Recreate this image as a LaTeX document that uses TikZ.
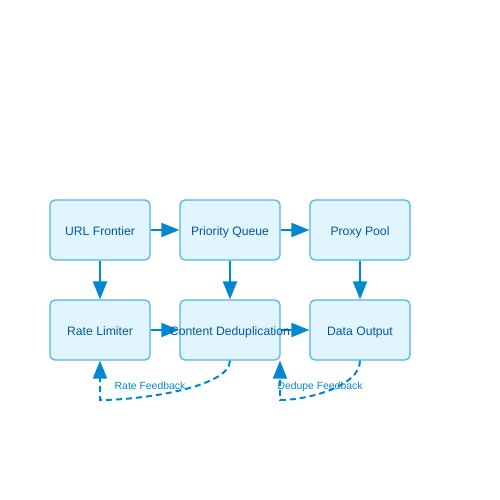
\documentclass[tikz,border=0pt]{standalone}
\usepackage{fontspec}
\setmainfont{Liberation Sans}
\usetikzlibrary{arrows.meta,calc}
\definecolor{boxfill}{HTML}{E1F5FE}
\definecolor{boxline}{HTML}{4FB3E8}
\definecolor{boxtext}{HTML}{01579B}
\definecolor{arrowc}{HTML}{0288D1}
\tikzset{
  stage/.style={draw=boxline, fill=boxfill, line width=1.2pt, rounded corners=5pt,
    minimum width=100pt, minimum height=60pt, inner sep=0pt, text=boxtext,
    font=\fontsize{12.2pt}{14pt}\selectfont},
  stagetext/.style={text=boxtext, font=\fontsize{12.2pt}{14pt}\selectfont, inner sep=0pt,
    text height=8.8pt, text depth=0pt},
  flow/.style={draw=arrowc, line width=2pt, -{Triangle[length=18pt,width=14pt]}},
  feedback/.style={flow, dash pattern=on 6pt off 4pt},
  fblabel/.style={text=arrowc, font=\fontsize{10.4pt}{12pt}\selectfont, inner sep=0pt,
    text height=7.5pt, text depth=0pt}
}
\begin{document}
\begin{tikzpicture}[x=1pt,y=-1pt]
\useasboundingbox (0,0) rectangle (500,500);
\node[stage] (url) at (100,230) {};
\node[stage] (pq) at (230,230) {};
\node[stage] (proxy) at (360,230) {};
\node[stage] (rate) at (100,330) {};
\node[stage] (dedup) at (230,330) {};
\node[stage] (out) at (360,330) {};
\draw[flow] (url.east) -- (pq.west);
\draw[flow] (pq.east) -- (proxy.west);
\draw[flow] (url.south) -- (rate.north);
\draw[flow] (pq.south) -- (dedup.north);
\draw[flow] (proxy.south) -- (out.north);
\draw[flow] (rate.east) -- (dedup.west);
\draw[flow] (dedup.east) -- (out.west);
\node[stagetext] (urltext) at ([yshift=-0.8pt]url.center) {URL Frontier};
\node[stagetext] (pqtext) at ([yshift=-0.8pt]pq.center) {Priority Queue};
\node[stagetext] (proxytext) at ([yshift=-0.8pt]proxy.center) {Proxy Pool};
\node[stagetext] (ratetext) at ([yshift=-0.8pt]rate.center) {Rate Limiter};
\node[stagetext] (deduptext) at ([yshift=-0.8pt]dedup.center) {Content Deduplication};
\node[stagetext] (outtext) at ([yshift=-0.8pt]out.center) {Data Output};
\coordinate (c1) at (100,400);
\coordinate (c2) at (280,400);
\draw[feedback] (dedup.south) .. controls ($(dedup.south)!0.667!(230,400)$) and ($(c1)!0.333!(230,400)$) .. (c1) -- (rate.south);
\draw[feedback] (out.south) .. controls ($(out.south)!0.667!(360,400)$) and ($(c2)!0.333!(360,400)$) .. (c2) -- (dedup.south -| c2);
\node[fblabel] (lab1) at (150,386) {Rate Feedback};
\node[fblabel] (lab2) at (320,386) {Dedupe Feedback};
\end{tikzpicture}
\end{document}
